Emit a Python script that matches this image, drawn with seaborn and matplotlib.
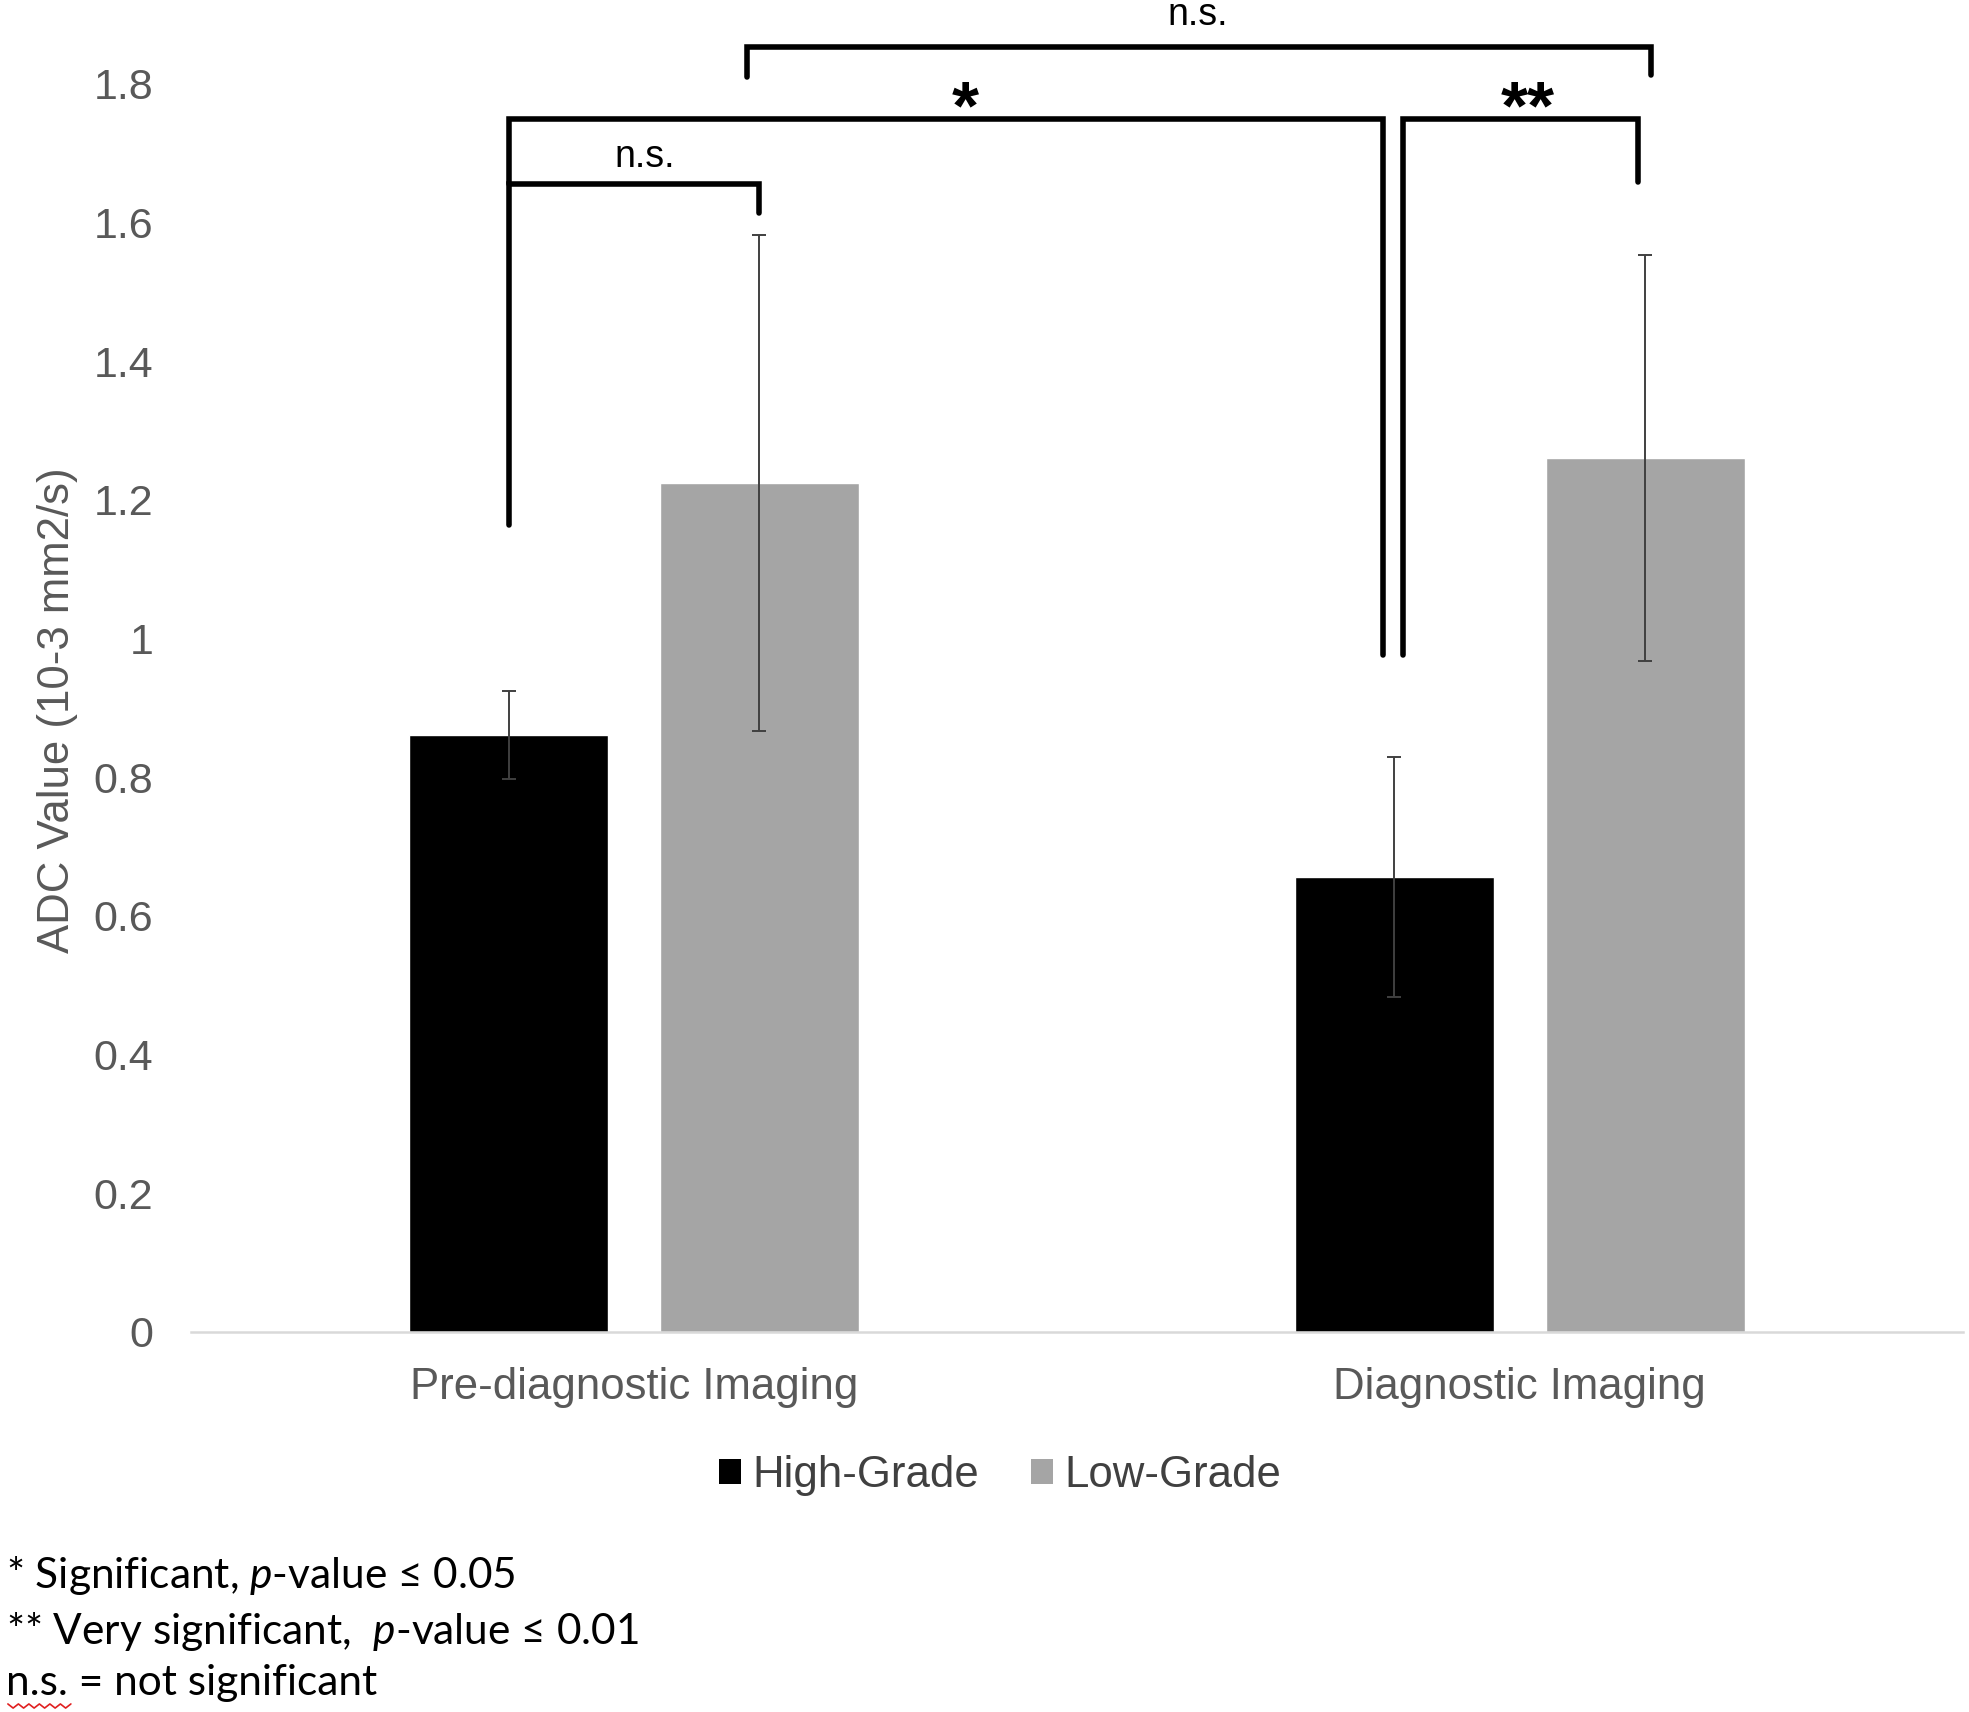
import numpy as np
import pandas as pd
import seaborn as sns
import matplotlib.pyplot as plt
from matplotlib.patches import Patch
from matplotlib.lines import Line2D

# data
imaging = ['Pre-diagnostic Imaging', 'Diagnostic Imaging']
grades = ['High-Grade', 'Low-Grade']
high_grade = [0.861, 0.656]
low_grade = [1.224, 1.260]
high_grade_err = [0.064, 0.173]
low_grade_err = [0.358, 0.293]
y_ticks = [0, 0.2, 0.4, 0.6, 0.8, 1.0, 1.2, 1.4, 1.6, 1.8]
y_tick_labels = ['0', '0.2', '0.4', '0.6', '0.8', '1', '1.2', '1.4', '1.6', '1.8']

# significance brackets: (group, bar, x shift) for each end, left foot, top, right foot, label
brackets = [
    ((0, 0, 0.0), (0, 1, 0.0), 1.164, 1.655, 1.614, 'n.s.'),
    ((0, 0, 0.0), (1, 0, -0.013), 1.655, 1.750, 0.976, '*'),
    ((1, 0, 0.010), (1, 1, -0.008), 0.976, 1.750, 1.659, '**'),
    ((0, 1, -0.014), (1, 1, 0.007), 1.810, 1.853, 1.813, 'n.s.'),
]
label_pos = [(0.012, 1.695), (0.374, 1.762), (1.0085, 1.762), (0.637, 1.900)]

df = pd.DataFrame({
    'Imaging': imaging * 2,
    'Grade': [grades[0]] * 2 + [grades[1]] * 2,
    'ADC': high_grade + low_grade,
})
colors = {'High-Grade': '#000000', 'Low-Grade': '#a5a5a5'}

sns.set_theme(style='white')
plt.rcParams['font.family'] = ['Liberation Sans', 'DejaVu Sans']

fig = plt.figure(figsize=(19.69, 17.12), dpi=100)
ax = fig.add_axes([0.097, 0.222, 0.8998, 0.729])

sns.barplot(data=df, x='Imaging', y='ADC', hue='Grade', order=imaging, hue_order=grades,
            palette=colors, width=0.566, gap=0.207, errorbar=None, legend=False,
            saturation=1, ax=ax)

# error bars on top of the bars
centers = []
for cont, errs in zip(ax.containers, [high_grade_err, low_grade_err]):
    xs = [b.get_x() + b.get_width() / 2 for b in cont]
    ys = [b.get_height() for b in cont]
    centers.append(xs)
    ax.errorbar(xs, ys, yerr=errs, fmt='none', ecolor='#404040',
                elinewidth=1.4, capsize=5, capthick=1.4)

# brackets
for (g1, b1, d1), (g2, b2, d2), yl, yt, yr, lab in brackets:
    x1 = centers[b1][g1] + d1
    x2 = centers[b2][g2] + d2
    ax.plot([x1, x1, x2, x2], [yl, yt, yt, yr], color='black', lw=4,
            solid_joinstyle='miter', clip_on=False)
for (_, _, _, _, _, lab), (tx, ty) in zip(brackets, label_pos):
    if '*' in lab:
        ax.text(tx, ty, lab, ha='center', va='center', fontsize=50,
                fontweight='bold', color='black', clip_on=False)
    else:
        ax.text(tx, ty, lab, ha='center', va='center', fontsize=27,
                color='black', clip_on=False)

ax.set_xlim(-0.5, 1.5)
ax.set_ylim(0, 1.8)
ax.set_yticks(y_ticks)
ax.set_yticklabels(y_tick_labels)
ax.set_xlabel('')
ax.set_ylabel('')
ax.tick_params(axis='y', length=0, pad=27, labelsize=31, labelcolor='#595959')
ax.tick_params(axis='x', length=0, pad=25.5, labelsize=31.5, labelcolor='#595959')
for s in ['left', 'top', 'right']:
    ax.spines[s].set_visible(False)
ax.spines['bottom'].set_color('#d9d9d9')
ax.spines['bottom'].set_linewidth(1.8)
ax.grid(False)

fig.text(0.029, 0.585, 'ADC Value (10-3 mm2/s)', rotation=90, ha='center', va='center',
         fontsize=31.5, color='#595959')

handles = [Patch(facecolor=colors[g], edgecolor='none') for g in grades]
fig.legend(handles, grades, loc='center', bbox_to_anchor=(0.508, 0.138), ncol=2,
           frameon=False, fontsize=31.5, handlelength=0.5, handleheight=0.5,
           handletextpad=0.25, columnspacing=1.2, labelcolor='#404040')

# footnotes
plt.rcParams['mathtext.fontset'] = 'custom'
plt.rcParams['mathtext.it'] = 'Lato:italic'
plt.rcParams['mathtext.rm'] = 'Lato'
notes = ['* Significant, $p$-value \u2264 0.05',
         '** Very significant,  $p$-value \u2264 0.01',
         'n.s. = not significant']
for txt, fy in zip(notes, [0.080, 0.047, 0.017]):
    fig.text(0.003, fy, txt, ha='left', va='center', fontsize=30.5,
             family=['Lato', 'DejaVu Sans'], color='black')

# spell-check squiggle under "n.s."
zx = np.linspace(0.004, 0.036, 13)
zy = 0.0035 + 0.0012 * np.array([(-1) ** i for i in range(13)])
fig.add_artist(Line2D(zx, zy, color='#e02020', lw=1.2, transform=fig.transFigure))

fig.savefig('out.png', dpi=100)
